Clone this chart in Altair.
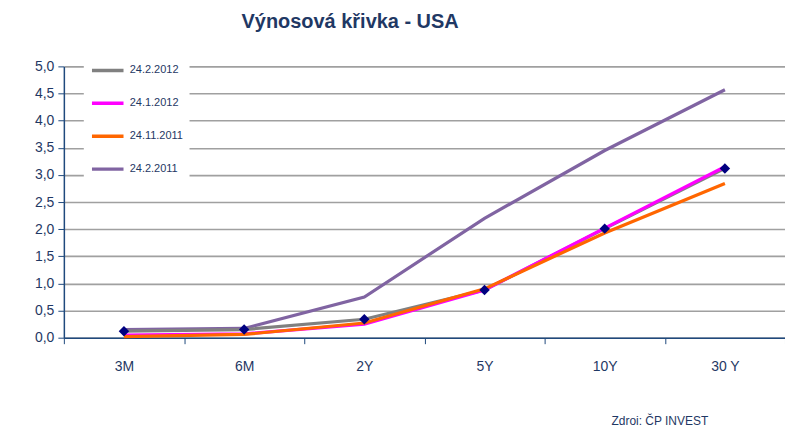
import altair as alt
import pandas as pd

maturities = ["3M", "6M", "2Y", "5Y", "10Y", "30Y"]
maturity_labels = ["3M", "6M", "2Y", "5Y", "10Y", "30 Y"]
series_names = ["24.2.2012", "24.1.2012", "24.11.2011", "24.2.2011"]
s_2012_02 = [0.12, 0.15, 0.34, 0.88, 2.01, 3.12]
s_2012_01 = [0.05, 0.07, 0.25, 0.88, 2.02, 3.15]
s_2011_11 = [0.02, 0.06, 0.27, 0.90, 1.93, 2.84]
s_2011_02 = [0.15, 0.17, 0.75, 2.20, 3.45, 4.57]
colors = ["#808080", "#FF00FF", "#FF6600", "#8064A2"]
title_text = ["Výnosová křivka - USA"]
source_text = ["Zdroi: ČP INVEST"]

rows = []
for name, vals in zip(series_names, [s_2012_02, s_2012_01, s_2011_11, s_2011_02]):
    for m, v in zip(maturities, vals):
        rows.append({"series": name, "maturity": m, "value": v})
df = pd.DataFrame(rows)

FONT = "Liberation Sans"
NAVY = "#1F3864"

label_map = "{" + ",".join(f"'{m}':'{l}'" for m, l in zip(maturities, maturity_labels)) + "}"

x = alt.X("maturity:N", sort=maturities, title=None,
          scale=alt.Scale(paddingInner=0, paddingOuter=0),
          axis=alt.Axis(tickBand="extent", labelAngle=0, labelFontSize=14,
                        labelColor=NAVY, labelFont=FONT, labelPadding=16,
                        domainColor="#1F497D", tickColor="#1F497D", domainWidth=1.5,
                        tickSize=6, grid=False,
                        labelExpr=f"{label_map}[datum.value]"))
y = alt.Y("value:Q", title=None,
          scale=alt.Scale(domain=[0, 5], nice=False),
          axis=alt.Axis(values=[i * 0.5 for i in range(11)], labelFontSize=14,
                        labelColor=NAVY, labelFont=FONT, labelPadding=4,
                        labelExpr="replace(format(datum.value, '.1f'), '.', ',')",
                        domainColor="#1F497D", tickColor="#1F497D", domainWidth=1.5,
                        tickSize=6, gridColor="#A0A0A0", gridWidth=1.6))

lines = alt.Chart(df).mark_line(strokeWidth=3.2).encode(
    x=x, y=y,
    color=alt.Color("series:N", scale=alt.Scale(domain=series_names, range=colors),
                    legend=alt.Legend(title=None, orient="none", legendX=20, legendY=-20,
                                      fillColor="white", padding=6, symbolType="stroke",
                                      symbolSize=1000, symbolStrokeWidth=3.5,
                                      labelFontSize=11, labelFont=FONT, labelColor=NAVY,
                                      labelOffset=4, rowPadding=8)),
)

layers = []
for name in ["24.2.2011", "24.2.2012", "24.1.2012", "24.11.2011"]:
    layers.append(lines.transform_filter(alt.datum.series == name))

markers = alt.Chart(df).transform_filter(alt.datum.series == "24.2.2012").mark_point(
    shape="diamond", filled=True, color="#000080", size=110, opacity=1
).encode(x=x, y=y)

title = alt.Chart(pd.DataFrame({"t": title_text})).mark_text(
    font=FONT, fontSize=20, fontWeight="bold", color=NAVY, align="center", baseline="middle"
).encode(text="t:N", x=alt.value(287), y=alt.value(-44))

src = alt.Chart(pd.DataFrame({"t": source_text})).mark_text(
    font=FONT, fontSize=12, color=NAVY, align="left", baseline="middle"
).encode(text="t:N", x=alt.value(549), y=alt.value(356))

chart = alt.layer(*layers, markers, title, src).properties(
    width=723, height=272,
    autosize=alt.AutoSizeParams(type="none"),
    padding={"left": 56, "top": 58, "right": 0, "bottom": 90},
).configure_view(stroke=None)

chart.save("out.html", embed_options={"renderer": "svg", "actions": False})
